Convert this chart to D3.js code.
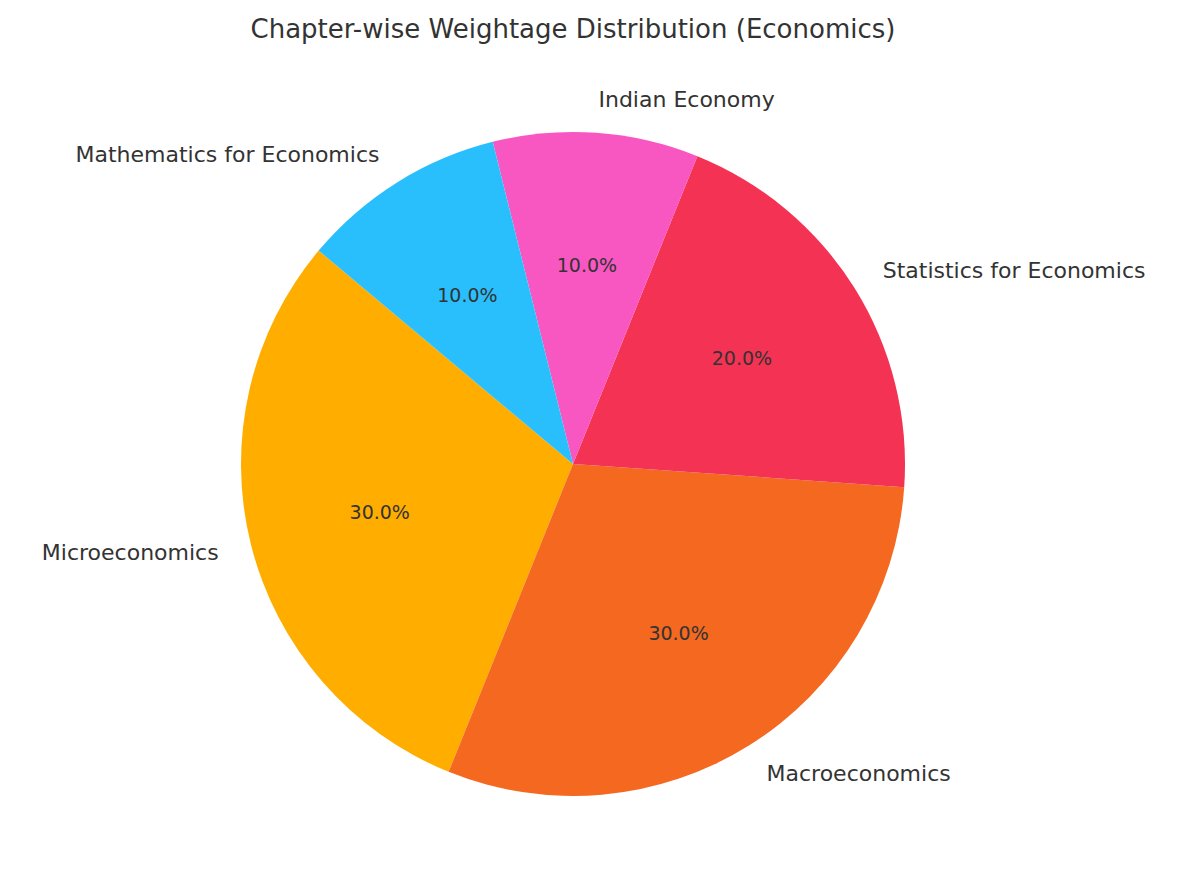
<!DOCTYPE html>
<html><head><meta charset="utf-8">
<script src="https://cdn.jsdelivr.net/npm/d3@7"></script>
<style>body{margin:0;background:#fff}svg{display:block}</style>
</head><body><svg id="c" width="1200" height="893"></svg>
<script>
const categories = ['Microeconomics', 'Macroeconomics', 'Statistics for Economics', 'Indian Economy', 'Mathematics for Economics'];
const weights = [30, 30, 20, 10, 10];
const colors = ['#FFAE00', '#F46820', '#F43254', '#F857C2', '#29BFFD'];

const svg = d3.select('#c');
const cx = 573, cy = 464, R = 332;
const font = 'DejaVu Sans, sans-serif';

svg.append('text').attr('x', 573).attr('y', 38).attr('text-anchor', 'middle')
  .attr('font-family', font).attr('font-size', 26).attr('fill', '#333').text('Chapter-wise Weightage Distribution (Economics)');

const rad = Math.PI / 180;
// matplotlib startangle 140, counterclockwise -> d3 angles
const pie = d3.pie().sort(null).value(d => d)
  .startAngle((90 - 140) * rad).endAngle((90 - 140 - 360) * rad);
const arcs = pie(weights);
const arc = d3.arc().innerRadius(0).outerRadius(R);
const g = svg.append('g').attr('transform', `translate(${cx},${cy})`);
const total = d3.sum(weights);

g.selectAll('path').data(arcs).join('path')
  .attr('d', arc).attr('fill', (d, i) => colors[i]);

arcs.forEach((d, i) => {
  const mid = (d.startAngle + d.endAngle) / 2;
  const sx = Math.sin(mid), sy = -Math.cos(mid);
  g.append('text').attr('x', sx * R * 1.1).attr('y', sy * R * 1.1)
    .attr('text-anchor', sx < 0 ? 'end' : 'start').attr('dominant-baseline', 'central')
    .attr('font-family', font).attr('font-size', 22).attr('fill', '#333').text(categories[i]);
  g.append('text').attr('x', sx * R * 0.6).attr('y', sy * R * 0.6)
    .attr('text-anchor', 'middle').attr('dominant-baseline', 'central')
    .attr('font-family', font).attr('font-size', 19).attr('fill', '#333')
    .text((d.data / total * 100).toFixed(1) + '%');
});
</script></body></html>
